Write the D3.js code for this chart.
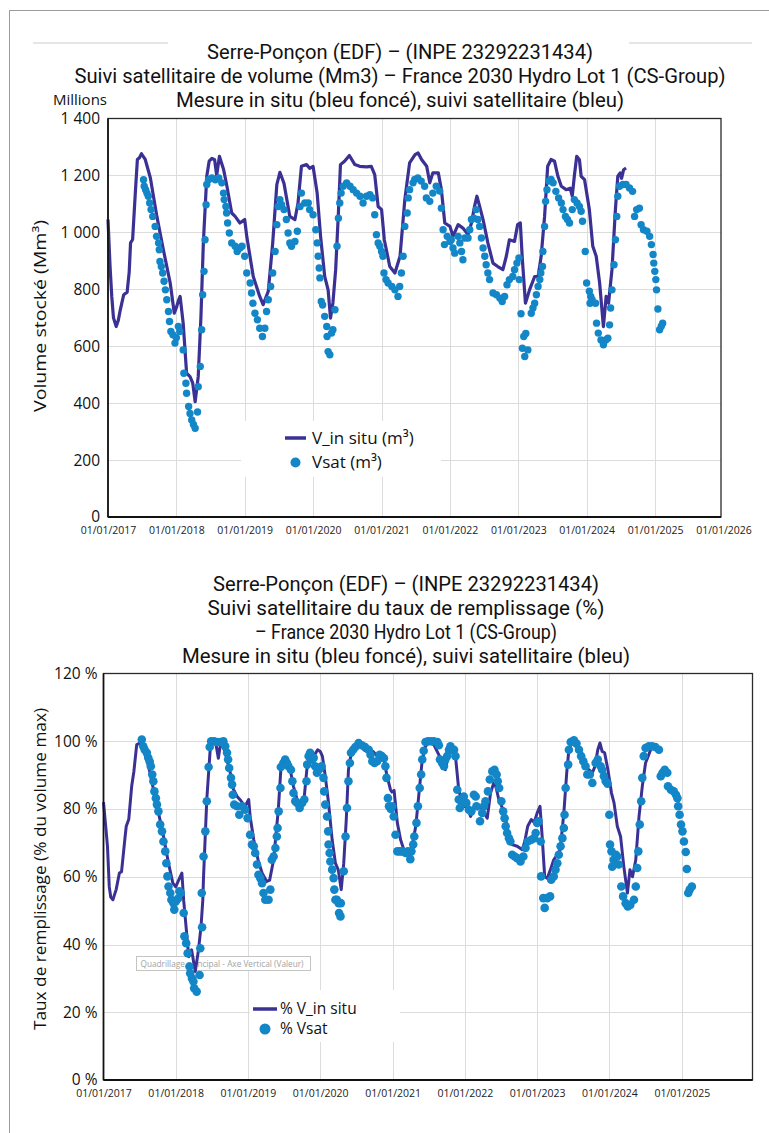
<!DOCTYPE html>
<html>
<head>
<meta charset="utf-8">
<script src="https://cdn.jsdelivr.net/npm/d3@7"></script>
<style>
  body { margin: 0; background: #fff; }
  text { font-family: "Open Sans", sans-serif; fill: #111; }
</style>
</head>
<body>
<svg id="chart" width="769" height="1133"></svg>
<script>
// years on the x axis (both panels)
var yearTicks = [2017, 2018, 2019, 2020, 2021, 2022, 2023, 2024, 2025, 2026];
var volTicks = [0, 200, 400, 600, 800, 1000, 1200, 1400];
var pctTicks = [0, 20, 40, 60, 80, 100, 120];

// [decimal year, Mm3] - in situ volume
var volInSitu = [[2017.0,1045],[2017.03,880],[2017.055,775],[2017.08,700],[2017.12,669],[2017.15,690],[2017.18,728],[2017.23,781],[2017.28,790],[2017.31,860],[2017.33,963],[2017.36,975],[2017.40,1140],[2017.43,1256],[2017.46,1262],[2017.49,1276],[2017.545,1256],[2017.62,1191],[2017.715,1056],[2017.81,939],[2017.91,822],[2017.97,716],[2018.0,735],[2018.03,760],[2018.055,775],[2018.10,681],[2018.15,505],[2018.20,493],[2018.24,470],[2018.275,405],[2018.32,493],[2018.36,705],[2018.395,963],[2018.445,1197],[2018.48,1250],[2018.52,1260],[2018.56,1255],[2018.59,1200],[2018.63,1267],[2018.69,1222],[2018.74,1162],[2018.81,1068],[2018.86,1056],[2018.93,1033],[2019.0,1045],[2019.03,986],[2019.125,845],[2019.22,775],[2019.27,746],[2019.345,793],[2019.41,963],[2019.47,1168],[2019.515,1211],[2019.575,1172],[2019.66,1056],[2019.735,1045],[2019.78,1103],[2019.83,1232],[2019.905,1238],[2019.95,1225],[2020.0,1232],[2020.06,1138],[2020.11,986],[2020.17,845],[2020.22,798],[2020.255,699],[2020.29,752],[2020.33,869],[2020.37,1068],[2020.40,1238],[2020.46,1250],[2020.53,1270],[2020.61,1238],[2020.68,1232],[2020.78,1230],[2020.85,1232],[2020.90,1203],[2020.95,1091],[2021.0,1080],[2021.04,974],[2021.12,880],[2021.195,857],[2021.27,916],[2021.34,1115],[2021.41,1244],[2021.49,1273],[2021.535,1279],[2021.585,1256],[2021.66,1232],[2021.705,1174],[2021.75,1209],[2021.83,1209],[2021.875,1150],[2021.925,1033],[2022.0,1021],[2022.045,986],[2022.12,1027],[2022.19,1015],[2022.265,992],[2022.315,1033],[2022.36,1091],[2022.395,1127],[2022.435,1091],[2022.485,1045],[2022.555,963],[2022.63,892],[2022.70,880],[2022.775,869],[2022.825,916],[2022.87,974],[2022.945,968],[2022.99,1027],[2023.03,1033],[2023.06,904],[2023.105,751],[2023.165,798],[2023.24,845],[2023.29,845],[2023.335,916],[2023.385,1056],[2023.43,1232],[2023.48,1256],[2023.53,1250],[2023.58,1197],[2023.63,1162],[2023.70,1150],[2023.76,1155],[2023.79,1127],[2023.82,1197],[2023.855,1267],[2023.895,1255],[2023.92,1197],[2023.97,1185],[2024.04,1080],[2024.09,951],[2024.14,916],[2024.19,822],[2024.245,669],[2024.285,775],[2024.32,751],[2024.37,869],[2024.42,1080],[2024.455,1197],[2024.49,1209],[2024.51,1190],[2024.54,1220],[2024.575,1226]];

// [decimal year, Mm3] - satellite volume
var volSat = [[2017.52,1185],[2017.53,1162],[2017.55,1150],[2017.57,1138],[2017.59,1127],[2017.61,1103],[2017.63,1080],[2017.655,1056],[2017.69,1021],[2017.71,986],[2017.74,963],[2017.75,939],[2017.76,898],[2017.78,880],[2017.80,857],[2017.82,828],[2017.84,798],[2017.86,763],[2017.885,722],[2017.90,687],[2017.92,652],[2017.95,640],[2017.98,611],[2018.0,630],[2018.03,669],[2018.05,652],[2018.10,587],[2018.11,505],[2018.14,470],[2018.15,435],[2018.18,388],[2018.20,364],[2018.225,341],[2018.25,325],[2018.275,312],[2018.31,369],[2018.32,458],[2018.35,529],[2018.37,658],[2018.385,781],[2018.405,863],[2018.42,974],[2018.435,1097],[2018.445,1168],[2018.47,1185],[2018.52,1191],[2018.57,1185],[2018.62,1191],[2018.665,1174],[2018.69,1138],[2018.70,1115],[2018.725,1091],[2018.735,1068],[2018.75,1033],[2018.775,998],[2018.81,963],[2018.86,951],[2018.89,933],[2018.93,945],[2018.96,951],[2019.0,916],[2019.03,857],[2019.08,822],[2019.10,787],[2019.12,751],[2019.15,716],[2019.185,693],[2019.22,663],[2019.26,634],[2019.295,663],[2019.32,722],[2019.345,763],[2019.38,810],[2019.41,857],[2019.445,933],[2019.47,1027],[2019.49,1091],[2019.515,1115],[2019.54,1097],[2019.575,1080],[2019.61,1045],[2019.635,998],[2019.66,963],[2019.685,951],[2019.735,968],[2019.77,1004],[2019.81,1091],[2019.83,1138],[2019.88,1103],[2019.93,1103],[2019.95,1080],[2020.0,1062],[2020.04,1009],[2020.06,963],[2020.075,916],[2020.09,875],[2020.10,840],[2020.12,757],[2020.14,745],[2020.17,705],[2020.20,669],[2020.205,634],[2020.22,581],[2020.245,570],[2020.27,646],[2020.29,658],[2020.32,728],[2020.35,951],[2020.37,1050],[2020.39,1103],[2020.41,1138],[2020.44,1162],[2020.49,1174],[2020.54,1162],[2020.585,1150],[2020.635,1138],[2020.685,1127],[2020.73,1103],[2020.78,1127],[2020.83,1132],[2020.87,1121],[2020.90,1062],[2020.925,992],[2020.95,963],[2020.975,951],[2021.0,933],[2021.02,916],[2021.035,857],[2021.065,834],[2021.095,822],[2021.15,810],[2021.195,798],[2021.24,775],[2021.265,810],[2021.29,857],[2021.315,916],[2021.34,1021],[2021.375,1068],[2021.39,1121],[2021.41,1150],[2021.46,1174],[2021.485,1186],[2021.53,1191],[2021.58,1180],[2021.63,1162],[2021.655,1121],[2021.705,1109],[2021.75,1138],[2021.80,1162],[2021.85,1145],[2021.875,1085],[2021.90,1009],[2021.92,957],[2021.96,986],[2022.0,968],[2022.02,974],[2022.045,945],[2022.07,927],[2022.12,986],[2022.145,963],[2022.17,933],[2022.19,904],[2022.22,980],[2022.265,980],[2022.29,1009],[2022.315,1045],[2022.35,1050],[2022.385,1080],[2022.41,1045],[2022.435,1021],[2022.46,980],[2022.485,945],[2022.51,916],[2022.53,886],[2022.555,857],[2022.58,834],[2022.63,787],[2022.68,781],[2022.73,769],[2022.765,757],[2022.80,775],[2022.835,816],[2022.87,834],[2022.92,845],[2022.945,869],[2022.98,892],[2023.01,910],[2023.015,834],[2023.04,714],[2023.06,593],[2023.08,634],[2023.095,564],[2023.11,645],[2023.14,587],[2023.19,716],[2023.215,734],[2023.24,751],[2023.265,781],[2023.29,810],[2023.315,834],[2023.33,857],[2023.355,880],[2023.36,933],[2023.385,1021],[2023.40,1109],[2023.42,1150],[2023.445,1180],[2023.48,1186],[2023.51,1174],[2023.55,1144],[2023.59,1121],[2023.63,1103],[2023.655,1080],[2023.69,1056],[2023.72,1045],[2023.75,1033],[2023.79,1080],[2023.82,1115],[2023.86,1103],[2023.895,1091],[2023.92,1074],[2023.94,1039],[2023.98,933],[2024.0,822],[2024.04,793],[2024.06,775],[2024.05,751],[2024.08,763],[2024.13,751],[2024.145,681],[2024.17,646],[2024.21,622],[2024.245,605],[2024.28,622],[2024.31,628],[2024.335,675],[2024.35,734],[2024.37,798],[2024.40,886],[2024.42,974],[2024.44,1056],[2024.455,1127],[2024.48,1162],[2024.53,1168],[2024.575,1168],[2024.625,1156],[2024.67,1144],[2024.70,1056],[2024.73,1080],[2024.77,1085],[2024.795,1027],[2024.83,1009],[2024.88,1004],[2024.92,986],[2024.945,957],[2024.97,922],[2024.98,892],[2024.995,863],[2025.01,834],[2025.02,798],[2025.04,731],[2025.065,658],[2025.09,670],[2025.11,681]];

// [decimal year, %] - in situ filling rate
var pctInSitu = [[2017.0,82],[2017.03,75],[2017.055,69],[2017.08,57],[2017.10,54],[2017.13,53.2],[2017.175,56.2],[2017.22,61.1],[2017.25,61.5],[2017.30,72],[2017.315,74.9],[2017.35,77],[2017.39,86.7],[2017.42,91],[2017.46,99],[2017.51,99.5],[2017.56,97],[2017.62,93],[2017.70,85],[2017.78,77],[2017.83,72],[2017.90,64],[2017.96,58.1],[2018.0,57],[2018.04,59],[2018.085,61.1],[2018.11,53],[2018.13,48.3],[2018.18,36.4],[2018.22,38.4],[2018.27,32],[2018.315,38.4],[2018.35,45.3],[2018.375,53.2],[2018.385,60.1],[2018.43,82.8],[2018.48,98.5],[2018.55,100],[2018.59,95],[2018.625,100],[2018.68,97],[2018.755,90.7],[2018.80,85.8],[2018.85,83.7],[2018.90,82.5],[2018.96,80.8],[2019.01,82.8],[2019.03,77.8],[2019.08,70.9],[2019.14,65],[2019.195,61.1],[2019.26,58.6],[2019.30,59],[2019.355,65],[2019.42,79.8],[2019.455,91.6],[2019.49,93.6],[2019.54,93],[2019.585,91.6],[2019.63,86.7],[2019.68,82.8],[2019.72,80.8],[2019.77,81.5],[2019.815,91.6],[2019.86,96.6],[2019.91,95.6],[2019.965,97.5],[2020.0,97],[2020.03,95.6],[2020.07,89.7],[2020.115,81.8],[2020.165,70.9],[2020.21,64],[2020.25,62],[2020.29,56.2],[2020.325,64],[2020.36,76.9],[2020.39,91.6],[2020.43,96.6],[2020.485,98.5],[2020.53,99.5],[2020.60,97.5],[2020.67,96.6],[2020.73,97],[2020.785,95.6],[2020.83,96.5],[2020.88,94.6],[2020.92,90],[2020.97,85.7],[2020.99,85],[2021.02,85.5],[2021.065,75.9],[2021.11,70.9],[2021.155,68],[2021.225,67],[2021.27,69],[2021.32,74.9],[2021.365,84.7],[2021.41,94.6],[2021.455,98.5],[2021.50,99.5],[2021.57,99],[2021.64,96],[2021.685,94],[2021.73,91.6],[2021.78,96.6],[2021.825,96.6],[2021.87,95.6],[2021.915,85.7],[2021.95,82.8],[2022.0,80.8],[2022.04,80],[2022.08,77.8],[2022.13,80.8],[2022.18,80],[2022.215,80.8],[2022.265,79],[2022.31,77.3],[2022.355,84.7],[2022.40,87.7],[2022.43,86.5],[2022.47,82.8],[2022.51,80.8],[2022.565,76.9],[2022.61,71.9],[2022.655,69.5],[2022.725,69],[2022.795,68],[2022.83,70.5],[2022.87,74.9],[2022.92,76.9],[2022.96,76],[2023.0,78.8],[2023.04,80.8],[2023.07,71.9],[2023.105,60.1],[2023.14,59.5],[2023.185,62.1],[2023.23,65],[2023.28,66.5],[2023.32,68],[2023.37,78.8],[2023.41,90.7],[2023.44,97.5],[2023.49,100],[2023.53,99.5],[2023.58,97],[2023.64,95],[2023.695,92],[2023.765,90.7],[2023.80,92.5],[2023.84,97.5],[2023.87,99.5],[2023.90,97],[2023.935,96.6],[2023.98,91.6],[2024.03,84.7],[2024.065,81.8],[2024.11,74.9],[2024.155,71.9],[2024.20,63],[2024.25,55.2],[2024.285,62.1],[2024.32,60],[2024.365,65],[2024.41,77.8],[2024.455,86.7],[2024.50,93.6],[2024.535,95.5],[2024.57,97.5]];

// [decimal year, %] - satellite filling rate
var pctSat = [[2017.53,100.5],[2017.55,98.5],[2017.57,97.5],[2017.60,96.6],[2017.62,95.1],[2017.64,94],[2017.655,92.6],[2017.675,90.2],[2017.69,88.2],[2017.705,85.2],[2017.725,83.2],[2017.74,81.3],[2017.76,79.3],[2017.785,75.4],[2017.81,73.4],[2017.83,70.4],[2017.855,67.5],[2017.87,64],[2017.885,60.1],[2017.90,57.1],[2017.925,55.2],[2017.94,53.2],[2017.96,52.7],[2017.97,52.2],[2017.98,50.3],[2018.0,52.7],[2018.03,53.5],[2018.05,55.7],[2018.07,55.2],[2018.11,49.3],[2018.12,42.4],[2018.145,40.4],[2018.165,37.4],[2018.19,33.5],[2018.20,31.5],[2018.225,30],[2018.245,29.1],[2018.255,27.1],[2018.29,26.1],[2018.33,31],[2018.34,38.9],[2018.36,55.2],[2018.365,45.1],[2018.385,66],[2018.41,73.4],[2018.43,82.3],[2018.455,92.4],[2018.47,98.3],[2018.49,100],[2018.53,100],[2018.565,99.8],[2018.615,99.8],[2018.66,100],[2018.685,98.5],[2018.71,96.6],[2018.725,94.6],[2018.74,92.1],[2018.765,89.2],[2018.78,87.2],[2018.79,84.2],[2018.81,81.3],[2018.85,80.8],[2018.88,78.3],[2018.92,80.8],[2018.96,79.8],[2018.995,77.3],[2019.03,72.4],[2019.055,69.5],[2019.08,69],[2019.10,67],[2019.125,63.6],[2019.145,60.6],[2019.17,59.6],[2019.195,58.1],[2019.215,55.2],[2019.24,53.2],[2019.285,53.2],[2019.31,56.2],[2019.33,65],[2019.355,66],[2019.38,68.5],[2019.40,71.9],[2019.41,74.4],[2019.425,79.3],[2019.45,86.2],[2019.455,92.4],[2019.49,93.6],[2019.515,94.6],[2019.54,93.6],[2019.56,92.6],[2019.595,91.6],[2019.615,88.2],[2019.63,84.7],[2019.655,82.3],[2019.68,81.8],[2019.715,80.3],[2019.75,81.8],[2019.78,82.8],[2019.81,88.2],[2019.82,93.1],[2019.84,95.6],[2019.86,96.6],[2019.885,94.6],[2019.91,95.1],[2019.93,92.6],[2019.955,90.7],[2019.98,91.6],[2020.0,92.1],[2020.02,92.6],[2020.045,89.2],[2020.055,85.2],[2020.07,81.3],[2020.095,77.8],[2020.11,73.4],[2020.115,69.5],[2020.13,67],[2020.14,64.5],[2020.165,62.1],[2020.185,59.6],[2020.195,56.2],[2020.21,53.2],[2020.23,53.2],[2020.255,52.2],[2020.26,49.3],[2020.28,48.3],[2020.285,52.2],[2020.325,61.6],[2020.35,71.9],[2020.37,80.3],[2020.39,88.2],[2020.41,93.6],[2020.425,96.6],[2020.455,97.5],[2020.485,98.3],[2020.53,99.5],[2020.575,98.8],[2020.62,98.3],[2020.67,97.5],[2020.695,96],[2020.72,94.1],[2020.75,93.6],[2020.785,94.1],[2020.82,96],[2020.85,95.6],[2020.88,95],[2020.90,92.6],[2020.915,89.2],[2020.935,83.2],[2020.95,80.8],[2020.975,80],[2020.995,80.8],[2021.015,77.8],[2021.04,72.4],[2021.065,67.5],[2021.10,67.5],[2021.13,67.5],[2021.18,67],[2021.21,67.5],[2021.245,65.2],[2021.26,67.5],[2021.285,69.5],[2021.30,71.9],[2021.33,75.9],[2021.35,80.8],[2021.375,86.2],[2021.395,90.2],[2021.41,94.6],[2021.43,97.2],[2021.455,99.8],[2021.49,100],[2021.525,100],[2021.57,100],[2021.62,99.8],[2021.64,98.8],[2021.655,94.6],[2021.685,93.6],[2021.71,92.6],[2021.73,94.6],[2021.755,95.6],[2021.78,97.5],[2021.80,98.5],[2021.825,97.5],[2021.85,97.5],[2021.87,95.6],[2021.895,85.7],[2021.915,82.8],[2021.93,80.3],[2021.96,81.8],[2021.985,83.7],[2022.02,81.8],[2022.055,79.8],[2022.09,79.3],[2022.125,84.2],[2022.15,83.7],[2022.16,80.8],[2022.21,76.4],[2022.24,78.8],[2022.265,80.8],[2022.285,82.3],[2022.32,85.2],[2022.345,88.7],[2022.38,91.1],[2022.41,91.6],[2022.44,90.2],[2022.455,88.2],[2022.475,86.2],[2022.505,82.3],[2022.53,79.3],[2022.55,77.3],[2022.565,74.9],[2022.585,72.9],[2022.61,71.4],[2022.63,70.4],[2022.655,66.5],[2022.69,66],[2022.725,65.5],[2022.77,64.5],[2022.81,66],[2022.84,68.5],[2022.87,70.4],[2022.92,70.9],[2022.96,71.4],[2022.98,72.9],[2023.0,75.9],[2023.02,76.4],[2023.05,70.4],[2023.055,60.1],[2023.085,53.7],[2023.105,50.8],[2023.14,53.7],[2023.18,54.2],[2023.195,59.1],[2023.23,60.1],[2023.255,62.1],[2023.28,64],[2023.30,66.5],[2023.325,69],[2023.35,71.4],[2023.37,74.4],[2023.38,78.3],[2023.395,86.2],[2023.43,93.1],[2023.44,97.5],[2023.465,99.8],[2023.51,100.3],[2023.545,99.3],[2023.58,97.5],[2023.61,95.6],[2023.64,94.1],[2023.67,92.6],[2023.695,90.2],[2023.73,90.2],[2023.765,87.7],[2023.81,93.6],[2023.84,94.6],[2023.88,92.6],[2023.90,91.6],[2023.925,89.7],[2023.95,88.2],[2023.975,87.5],[2024.0,78.3],[2024.01,69.5],[2024.03,67.5],[2024.04,63],[2024.06,65],[2024.09,66.5],[2024.11,66],[2024.13,63.6],[2024.165,57.1],[2024.19,54.2],[2024.225,52.2],[2024.255,51.2],[2024.29,51.7],[2024.34,53.2],[2024.365,57.1],[2024.385,62.6],[2024.40,67.5],[2024.42,75.4],[2024.44,82.3],[2024.455,89.2],[2024.475,95.6],[2024.50,98],[2024.545,98.5],[2024.59,98.5],[2024.635,98.3],[2024.685,97.5],[2024.71,89.7],[2024.735,90.7],[2024.765,91.6],[2024.80,90.7],[2024.81,86.7],[2024.85,85.7],[2024.89,85.2],[2024.92,84.2],[2024.94,83.2],[2024.95,80.8],[2024.97,78.3],[2024.99,75.4],[2025.01,73.4],[2025.03,70.4],[2025.055,67.3],[2025.07,62.3],[2025.09,55.2],[2025.11,56.2],[2025.14,57.1]];

var volTitle = ["Serre-Ponçon (EDF) – (INPE 23292231434)",
                "Suivi satellitaire de volume (Mm3) – France 2030 Hydro Lot 1 (CS-Group)",
                "Mesure in situ (bleu foncé), suivi satellitaire (bleu)"];
var pctTitle = ["Serre-Ponçon (EDF) – (INPE 23292231434)",
                "Suivi satellitaire du taux de remplissage (%)",
                "– France 2030 Hydro Lot 1 (CS-Group)",
                "Mesure in situ (bleu foncé), suivi satellitaire (bleu)"];

var dark = "#3b3194", light = "#1386c8", grid = "#dcdcdc";
var svg = d3.select("#chart");

function yd(v) { // decimal year -> Date
    var y = Math.floor(v);
    var s = Date.UTC(y, 0, 1), e = Date.UTC(y + 1, 0, 1);
    return new Date(s + (v - y) * (e - s));
}

var fr = d3.formatLocale({decimal: ",", thousands: "\u00a0", grouping: [3], currency: ["", " €"]});

// outer frame + faint rules at the top
svg.append("line").attr("x1", 9).attr("x2", 769).attr("y1", 10.5).attr("y2", 10.5).attr("stroke", "#9c9c9c");
svg.append("line").attr("x1", 9.5).attr("x2", 9.5).attr("y1", 10).attr("y2", 1133).attr("stroke", "#9c9c9c");
[[33, 168], [629, 752]].forEach(function(s) {
    svg.append("line").attr("x1", s[0]).attr("x2", s[1]).attr("y1", 43).attr("y2", 43)
        .attr("stroke", "#e6e6e6").attr("stroke-width", 2);
});

function panel(o) {
    var g = svg.append("g");
    var x = d3.scaleUtc().domain([yd(2017), yd(2026)]).range([o.left, o.xEnd]);
    var y = d3.scaleLinear().domain([0, o.yMax]).range([o.bottom, o.top]);

    // titles
    o.title.forEach(function(t, i) {
        g.append("text").attr("x", o.tx).attr("y", o.ty[i]).attr("text-anchor", "middle")
            .attr("textLength", o.tw[i]).attr("lengthAdjust", "spacingAndGlyphs")
            .style("font-family", "Roboto, sans-serif").style("font-size", "20px").text(t);
    });

    // grid
    g.append("g").selectAll("line").data(o.yTicks.slice(1, -1)).enter().append("line")
        .attr("x1", o.left).attr("x2", o.right)
        .attr("y1", function(d) { return Math.round(y(d)) + 0.5; })
        .attr("y2", function(d) { return Math.round(y(d)) + 0.5; })
        .attr("stroke", grid);
    g.append("g").selectAll("line").data(yearTicks.slice(1, -1)).enter().append("line")
        .attr("y1", o.top).attr("y2", o.bottom)
        .attr("x1", function(d) { return Math.round(x(yd(d))) + 0.5; })
        .attr("x2", function(d) { return Math.round(x(yd(d))) + 0.5; })
        .attr("stroke", grid);

    if (o.tip) {
        var tp = g.append("g");
        tp.append("rect").attr("x", o.tip[0]).attr("y", o.tip[1]).attr("width", 174).attr("height", 14)
            .attr("fill", "#fff").attr("fill-opacity", 0.85).attr("stroke", "#c4c4c4");
        tp.append("text").attr("x", o.tip[0] + 4).attr("y", o.tip[1] + 10.5).attr("textLength", 163)
            .attr("lengthAdjust", "spacingAndGlyphs").style("font-size", "8.5px").style("fill", "#a3a3a3")
            .text("Quadrillage principal - Axe Vertical (Valeur)");
    }

    // legend background hides the grid
    g.append("rect").attr("x", o.leg.box[0]).attr("y", o.leg.box[1])
        .attr("width", o.leg.box[2]).attr("height", o.leg.box[3]).attr("fill", "#fff");

    // in situ line
    g.append("path").datum(o.line)
        .attr("d", d3.line().x(function(d) { return x(yd(d[0])); }).y(function(d) { return y(d[1]); }))
        .attr("fill", "none").attr("stroke", dark).attr("stroke-width", o.lw).attr("stroke-linejoin", "round");

    // satellite points
    g.append("g").selectAll("circle").data(o.pts).enter().append("circle")
        .attr("cx", function(d) { return x(yd(d[0])); })
        .attr("cy", function(d) { return y(d[1]); })
        .attr("r", o.r).attr("fill", light);

    // frame
    g.append("rect").attr("x", o.left).attr("y", o.top).attr("width", o.right - o.left)
        .attr("height", o.bottom - o.top).attr("fill", "none").attr("stroke", "#2a2a2a").attr("stroke-width", 1.3);
    g.append("line").attr("x1", o.left).attr("x2", o.right).attr("y1", o.bottom).attr("y2", o.bottom)
        .attr("stroke", "#111").attr("stroke-width", 2);
    g.append("line").attr("x1", o.left).attr("x2", o.left).attr("y1", o.top).attr("y2", o.bottom)
        .attr("stroke", "#111").attr("stroke-width", 1.6);

    // axes
    var ya = g.append("g").attr("transform", "translate(" + o.left + ",0)")
        .call(d3.axisLeft(y).tickValues(o.yTicks).tickSize(0).tickPadding(o.yPad).tickFormat(o.fmt));
    ya.select(".domain").remove();
    ya.selectAll("text").style("font-family", "\"Open Sans\", sans-serif").style("font-size", "15.5px").style("fill", "#111");

    var xa = g.append("g").attr("transform", "translate(0," + o.bottom + ")")
        .call(d3.axisBottom(x).tickValues(o.xTicks.map(yd)).tickSize(0).tickPadding(10)
            .tickFormat(d3.utcFormat("%d/%m/%Y")));
    xa.select(".domain").remove();
    xa.selectAll("text").style("font-family", "\"Open Sans\", sans-serif").style("font-size", "10.5px").style("fill", "#222");

    // y axis title
    g.append("text").attr("transform", "translate(" + 46 + "," + o.yt[0] + ") rotate(-90)")
        .attr("text-anchor", "middle").attr("textLength", o.yt[1]).attr("lengthAdjust", "spacingAndGlyphs")
        .style("font-size", "16.5px").text(o.yLabel);

    // legend
    var L = o.leg;
    g.append("line").attr("x1", L.lx[0]).attr("x2", L.lx[1]).attr("y1", L.y[0]).attr("y2", L.y[0])
        .attr("stroke", dark).attr("stroke-width", 3.5);
    g.append("circle").attr("cx", (L.lx[0] + L.lx[1]) / 2).attr("cy", L.y[1]).attr("r", L.r).attr("fill", light);
    L.labels.forEach(function(t, i) {
        g.append("text").attr("x", L.tx).attr("y", L.y[i] + L.fs * 0.35).style("font-size", L.fs + "px").text(t);
    });
}

panel({
    left: 108, right: 721, xEnd: 723.5, top: 118.5, bottom: 517, yMax: 1400,
    yTicks: volTicks, xTicks: yearTicks, yPad: 8,
    fmt: fr.format(","),
    title: volTitle, tx: 400, ty: [59, 83, 107], tw: [386, 651, 448],
    line: volInSitu, pts: volSat, r: 3.7, lw: 3.2,
    yLabel: "Volume stocké (Mm³)", yt: [316, 192],
    leg: {box: [241, 421, 200, 56], lx: [285, 306], y: [438, 462.5], r: 5, tx: 312, fs: 17,
          labels: ["V_in situ (m³)", "Vsat (m³)"]}
});

svg.append("text").attr("x", 80).attr("y", 105).attr("text-anchor", "middle")
    .style("font-size", "15px").text("Millions");

panel({
    left: 103.5, right: 752.5, xEnd: 754, top: 673.5, bottom: 1080, yMax: 120,
    yTicks: pctTicks, xTicks: yearTicks.slice(0, -1), yPad: 6,
    fmt: function(d) { return d + "\u00a0%"; },
    title: pctTitle, tx: 406, ty: [591, 615, 639, 663], tw: [386, 397, 302, 448],
    line: pctInSitu, pts: pctSat, r: 4.3, lw: 3,
    yLabel: "Taux de remplissage (% du volume max)", yt: [869, 322],
    tip: [136.5, 956.5],
    leg: {box: [250, 990, 150, 52], lx: [253, 277], y: [1009, 1029], r: 5.5, tx: 280, fs: 15.5,
          labels: ["% V_in situ", "% Vsat"]}
});
</script>
</body>
</html>
